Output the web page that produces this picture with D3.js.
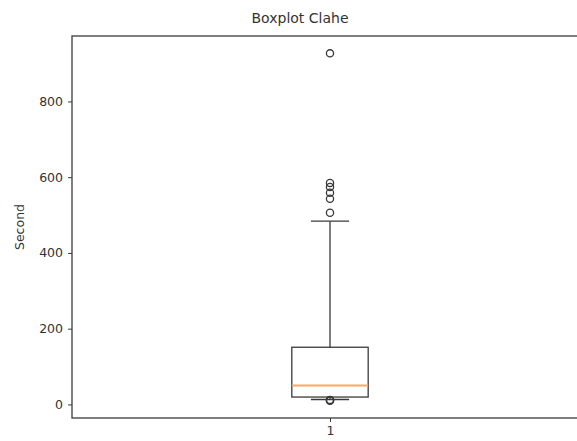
<!DOCTYPE html>
<html>
<head>
<meta charset="utf-8">
<script src="https://cdn.jsdelivr.net/npm/d3@7"></script>
<style>
  html, body { margin: 0; padding: 0; background: #fff; }
  svg { display: block; }
  text { font-family: "DejaVu Sans", sans-serif; fill: #333; }
</style>
</head>
<body>
<svg id="chart" width="577" height="441"></svg>
<script>
// Box summary for the single "Clahe" group (seconds)
const categories = ["1"];
const whiskerLow = [13];
const quartile1 = [19.5];
const medians = [50];
const quartile3 = [151];
const whiskerHigh = [484];
const fliers = [[927, 585, 574, 559, 543, 506, 12, 11, 10]];
const yTicks = [0, 200, 400, 600, 800];

const W = 577, H = 441;
const margin = { left: 72, top: 36, right: -11, bottom: 23 };
const svg = d3.select("#chart");

const allVals = fliers[0].concat(whiskerLow, whiskerHigh);
const vMin = d3.min(allVals), vMax = d3.max(allVals);
const pad = (vMax - vMin) * 0.05;

const x = d3.scaleLinear()
  .domain([0.5, 1.5])
  .range([margin.left, W - margin.right]);
const y = d3.scaleLinear()
  .domain([vMin - pad, vMax + pad])
  .range([H - margin.bottom, margin.top]);

const ink = "#3a3a3a";
const boxHalf = 0.074, capHalf = 0.037;

// Axes
const yAxis = d3.axisLeft(y).tickValues(yTicks).tickSize(4).tickPadding(5).tickFormat(d3.format("d"));
const gy = svg.append("g").attr("transform", `translate(${margin.left},0)`).call(yAxis);
gy.select(".domain").remove();
gy.selectAll(".tick line").attr("stroke", ink).attr("stroke-width", 1);
gy.selectAll(".tick text").style("font-size", "12.5px").attr("fill", "#333");

const xAxis = d3.axisBottom(x).tickValues([1]).tickFormat((d, i) => categories[i]).tickSize(4).tickPadding(4);
const gx = svg.append("g").attr("transform", `translate(0,${H - margin.bottom})`).call(xAxis);
gx.select(".domain").remove();
gx.selectAll(".tick line").attr("stroke", ink).attr("stroke-width", 1);
gx.selectAll(".tick text").style("font-size", "12.5px").attr("fill", "#333");

// Frame (spines)
svg.append("rect")
  .attr("x", margin.left).attr("y", margin.top)
  .attr("width", x.range()[1] - margin.left)
  .attr("height", y.range()[0] - margin.top)
  .attr("fill", "none").attr("stroke", ink).attr("stroke-width", 1.3);

// Box plot
categories.forEach((c, i) => {
  const cx = x(i + 1);
  const g = svg.append("g").attr("stroke", ink).attr("stroke-width", 1.3).attr("fill", "none");
  // whiskers
  g.append("line").attr("x1", cx).attr("x2", cx).attr("y1", y(quartile3[i])).attr("y2", y(whiskerHigh[i]));
  g.append("line").attr("x1", cx).attr("x2", cx).attr("y1", y(quartile1[i])).attr("y2", y(whiskerLow[i]));
  // caps
  [whiskerHigh[i], whiskerLow[i]].forEach(v => {
    g.append("line").attr("x1", x(i + 1 - capHalf)).attr("x2", x(i + 1 + capHalf))
      .attr("y1", y(v)).attr("y2", y(v));
  });
  // box
  g.append("rect")
    .attr("x", x(i + 1 - boxHalf)).attr("width", x(i + 1 + boxHalf) - x(i + 1 - boxHalf))
    .attr("y", y(quartile3[i])).attr("height", y(quartile1[i]) - y(quartile3[i]));
  // median
  svg.append("line")
    .attr("x1", x(i + 1 - boxHalf)).attr("x2", x(i + 1 + boxHalf))
    .attr("y1", y(medians[i])).attr("y2", y(medians[i]))
    .attr("stroke", "#fba866").attr("stroke-width", 1.8);
  // outliers
  svg.append("g").selectAll("circle").data(fliers[i]).join("circle")
    .attr("cx", cx).attr("cy", d => y(d)).attr("r", 3.6)
    .attr("fill", "none").attr("stroke", ink).attr("stroke-width", 1.3);
});

// Title and axis label
svg.append("text")
  .attr("x", 300).attr("y", 23)
  .attr("text-anchor", "middle")
  .style("font-size", "14px")
  .text("Boxplot Clahe");

svg.append("text")
  .attr("transform", `translate(24,${(margin.top + y.range()[0]) / 2}) rotate(-90)`)
  .attr("text-anchor", "middle")
  .style("font-size", "12.5px")
  .text("Second");
</script>
</body>
</html>
